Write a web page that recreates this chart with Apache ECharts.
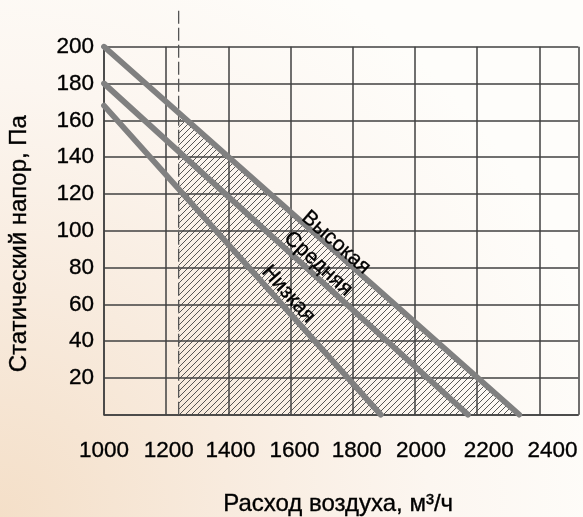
<!DOCTYPE html>
<html>
<head>
<meta charset="utf-8">
<script src="https://cdn.jsdelivr.net/npm/echarts@6/dist/echarts.min.js"></script>
<style>
html,body{margin:0;padding:0;overflow:hidden;}
#c{width:583px;height:517px;background:radial-gradient(circle at 0% 100%, #f4dfc8 0px, #f8ebde 230px, #fcf6f0 430px, #fefdfa 620px);}
</style>
</head>
<body>
<div id="c"></div>
<script>
// ---- data ----
const xTickValues = [1000, 1200, 1400, 1600, 1800, 2000, 2200, 2400];
const yTickValues = [20, 40, 60, 80, 100, 120, 140, 160, 180, 200];
const seriesNames = ['Высокая', 'Средняя', 'Низкая'];
const highFlow = [1000, 2335];
const highPressure = [200, 0];
const midFlow = [1000, 2170];
const midPressure = [180, 0];
const lowFlow = [1000, 1890];
const lowPressure = [168, 0];
const limitFlow = [1240, 1240];          // dashed minimum-flow line
const limitPressure = [0, 220];
const hatchFlow = [1240, 2335];          // hatched working zone (under "Высокая")
const hatchPressure = [164, 0];
const labelFlow = [1746, 1689, 1593];    // where the curve names sit
const labelPressure = [93.5, 82, 65.5];
const xAxisTitle = 'Расход воздуха, м³/ч';
const yAxisTitle = 'Статический напор, Па';

// ---- styling ----
const FONT = '"Liberation Sans", Arial, Helvetica, sans-serif';
const TEXT = '#000';
const GRID_COLOR = '#404040';
const CURVE_COLOR = '#808080';
const labelRotate = [-41.5, -42.3, -48.2];
const xLabelShift = [0, 2.5, 2, 4, 4, 6, 11.5, 13];
const heavy = { textBorderColor: TEXT, textBorderWidth: 0.35 };

function zip(a, b) { return a.map((v, i) => [v, b[i]]); }

function hatchPattern() {
  const c = document.createElement('canvas');
  c.width = 6; c.height = 6;
  const g = c.getContext('2d');
  g.strokeStyle = '#444';
  g.lineWidth = 0.9;
  g.beginPath();
  g.moveTo(0, 6); g.lineTo(6, 0);
  g.moveTo(-1, 1); g.lineTo(1, -1);
  g.moveTo(5, 7); g.lineTo(7, 5);
  g.stroke();
  return c;
}

const rich = {};
xLabelShift.forEach((s, i) => {
  rich['s' + i] = Object.assign({ fontSize: 22.5, fontFamily: FONT, color: TEXT, padding: [0, 0, 0, 2 * s] }, heavy);
});

const curves = [[highFlow, highPressure], [midFlow, midPressure], [lowFlow, lowPressure]];

const chart = echarts.init(document.getElementById('c'), null, { renderer: 'canvas' });
chart.setOption({
  animation: false,
  backgroundColor: 'transparent',
  grid: { left: 104, right: 4.7, top: 46.7, bottom: 102.3, containLabel: false, outerBoundsMode: 'none' },
  xAxis: {
    type: 'value', min: 1000, max: 2525, interval: 200,
    name: xAxisTitle, nameLocation: 'middle', nameGap: 78,
    nameTextStyle: Object.assign({ fontSize: 24, fontFamily: FONT, color: TEXT, padding: [0, 6, 0, 0] }, heavy),
    axisLine: { show: true, lineStyle: { color: GRID_COLOR, width: 1.5 } },
    axisTick: { show: false },
    splitLine: { show: true, lineStyle: { color: GRID_COLOR, width: 1.5 } },
    axisLabel: {
      margin: 25, fontSize: 22.5, fontFamily: FONT, color: TEXT,
      formatter: (v) => {
        const i = xTickValues.indexOf(v);
        return i < 0 ? '' : '{s' + i + '|' + v + '}';
      },
      rich: rich
    }
  },
  yAxis: {
    type: 'value', min: 0, max: 200, interval: 20,
    name: yAxisTitle, nameLocation: 'middle', nameGap: 73, nameRotate: 90,
    nameTextStyle: Object.assign({ fontSize: 24, fontFamily: FONT, color: TEXT, padding: [0, 26, 0, 0] }, heavy),
    axisLine: { show: true, lineStyle: { color: GRID_COLOR, width: 1.5 } },
    axisTick: { show: false },
    splitLine: { show: true, lineStyle: { color: GRID_COLOR, width: 1.5 } },
    axisLabel: Object.assign({
      margin: 10, fontSize: 22.5, fontFamily: FONT, color: TEXT,
      formatter: (v) => (yTickValues.indexOf(v) < 0 ? '' : String(v))
    }, heavy)
  },
  series: [
    {
      type: 'line', data: zip(hatchFlow, hatchPressure), symbol: 'none', silent: true, z: 1,
      lineStyle: { width: 0, opacity: 0 },
      areaStyle: { color: { image: hatchPattern(), repeat: 'repeat' }, opacity: 1 }
    },
    {
      type: 'line', data: zip(limitFlow, limitPressure), symbol: 'none', silent: true, clip: false, z: 2,
      lineStyle: { color: '#555', width: 1.3, type: [13, 4] }
    }
  ].concat(curves.map((c, i) => ({
    type: 'line', name: seriesNames[i], data: zip(c[0], c[1]), symbol: 'none', clip: false, z: 3,
    lineStyle: { color: CURVE_COLOR, width: 5.8, cap: 'round' },
    markPoint: {
      symbol: 'circle', symbolSize: 0, silent: true,
      label: Object.assign({
        show: true, position: 'inside', formatter: seriesNames[i], rotate: labelRotate[i],
        fontSize: 21, fontFamily: FONT, color: TEXT
      }, heavy),
      data: [{ coord: [labelFlow[i], labelPressure[i]] }]
    }
  })))
});
</script>
</body>
</html>
